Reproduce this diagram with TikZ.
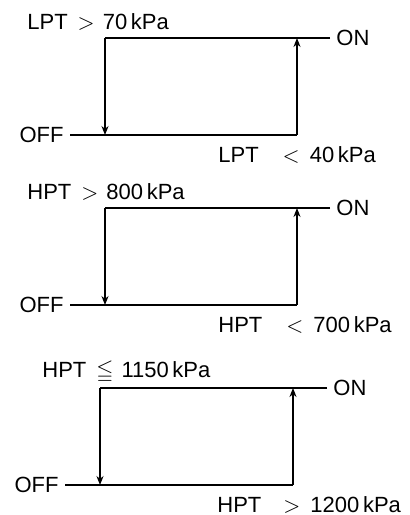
\documentclass[tikz,border=0pt]{standalone}
\usepackage{amssymb}
\usepackage{fontspec}
\setmainfont{Liberation Sans}
\usetikzlibrary{arrows.meta}
\newcommand{\relgap}[1]{\hspace{5pt}#1\hspace{4pt}}
\tikzset{
  state/.style={inner sep=3pt, font=\fontsize{11}{13}\selectfont},
  cond/.style={inner sep=0pt, anchor=base west, font=\fontsize{11}{13}\selectfont},
  line/.style={line width=0.7pt},
  jump/.style={line, -{Stealth[length=4.5pt, width=3.5pt]}}
}

\begin{document}
\begin{tikzpicture}[x=0.5pt, y=-0.5pt]
  \useasboundingbox (0,0) rectangle (409,515);

  % Low pressure switch
  \coordinate (tl1) at (105,38);
  \coordinate (tr1) at (297,38);
  \coordinate (bl1) at (105,135);
  \coordinate (br1) at (297,135);
  \node (on1) [state, anchor=west] at (330,38) {ON};
  \node (off1) [state, anchor=east] at (70,135) {OFF};
  \node (up1) [cond] at (27,29) {LPT\relgap{$>$}70\,kPa};
  \node (dn1) [cond] at (218,162) {LPT\hspace{12pt}$<$\hspace{5pt}40\,kPa};
  \draw[line] (on1.west) -- (tl1);
  \draw[jump] (tl1) -- (bl1);
  \draw[line] (off1.east) -- (br1);
  \draw[jump] (br1) -- (tr1);

  % High pressure switch
  \coordinate (tl2) at (105,208);
  \coordinate (tr2) at (297,208);
  \coordinate (bl2) at (105,305);
  \coordinate (br2) at (297,305);
  \node (on2) [state, anchor=west] at (330,208) {ON};
  \node (off2) [state, anchor=east] at (70,305) {OFF};
  \node (up2) [cond] at (27,199) {HPT\relgap{$>$}800\,kPa};
  \node (dn2) [cond] at (218,332) {HPT\hspace{12pt}$<$\hspace{5pt}700\,kPa};
  \draw[line] (on2.west) -- (tl2);
  \draw[jump] (tl2) -- (bl2);
  \draw[line] (off2.east) -- (br2);
  \draw[jump] (br2) -- (tr2);

  % High pressure cut-out
  \coordinate (tl3) at (100,388);
  \coordinate (tr3) at (293,388);
  \coordinate (bl3) at (100,485);
  \coordinate (br3) at (293,485);
  \node (on3) [state, anchor=west] at (327,388) {ON};
  \node (off3) [state, anchor=east] at (65,485) {OFF};
  \node (up3) [cond] at (42,377) {HPT\relgap{$\leqq$}1150\,kPa};
  \node (dn3) [cond] at (217,512) {HPT\hspace{11pt}$>$\hspace{5pt}1200\,kPa};
  \draw[line] (on3.west) -- (tl3);
  \draw[jump] (tl3) -- (bl3);
  \draw[line] (off3.east) -- (br3);
  \draw[jump] (br3) -- (tr3);
\end{tikzpicture}
\end{document}
